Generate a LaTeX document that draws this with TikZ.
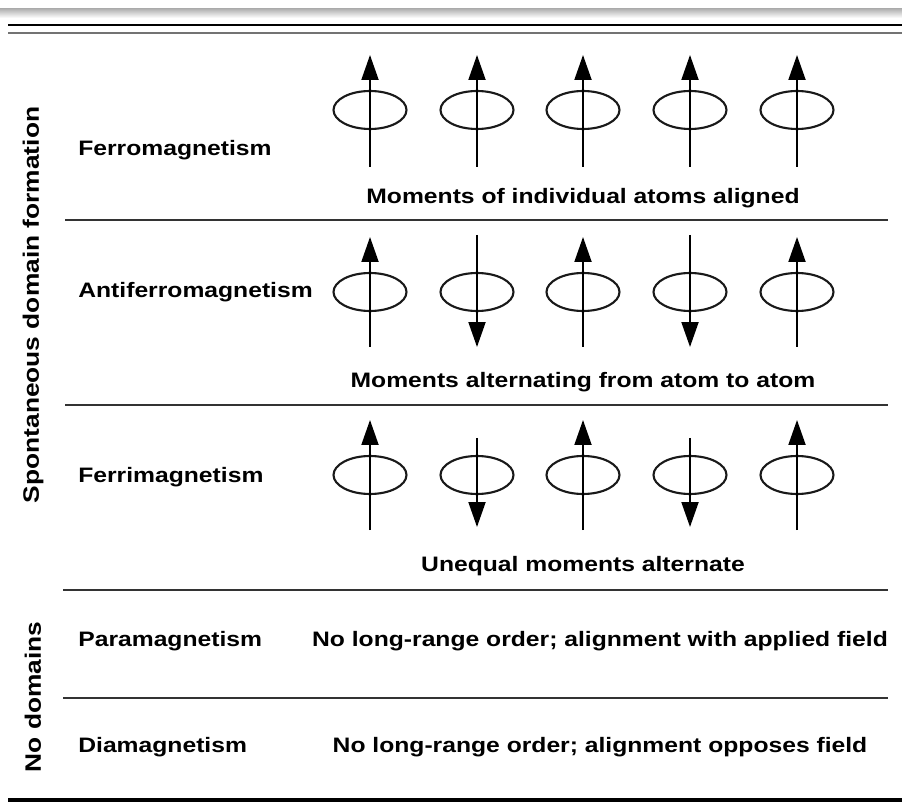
\documentclass[tikz,border=0pt]{standalone}
\usepackage{fontspec}
\setmainfont{Liberation Sans}
\newfontfamily\tablefont[FakeStretch=1.18]{Liberation Sans}
\usetikzlibrary{calc, arrows.meta, shapes.geometric}

\tikzset{
    rowlabel/.style={anchor=west, inner sep=0pt,
        font=\tablefont\bfseries\fontsize{11.9}{14}\selectfont},
    note/.style={inner sep=0pt,
        font=\tablefont\bfseries\fontsize{11.9}{14}\selectfont},
    side/.style={inner sep=0pt, rotate=90,
        font=\tablefont\bfseries\fontsize{12.7}{15}\selectfont},
    atom/.style={draw=black!90, line width=1.2pt, ellipse, inner sep=0pt,
        minimum width=1.46cm, minimum height=0.76cm},
    spin/.style={draw=black, line width=1.1pt,
        -{Triangle[length=0.5cm, width=0.34cm]}},
    rule/.style={draw=black!80, line width=1.5pt}
}

\begin{document}
\begin{tikzpicture}[x=0.02cm, y=-0.02cm]
    \useasboundingbox (0,0) rectangle (902,803);
    \shade[top color=black!30, bottom color=white] (0,9) rectangle (902,18);

    \draw[rule, black] (8,25) -- (902,25);
    \draw[rule, black!55] (8,33) -- (902,33);
    \draw[rule] (65,220) -- (888,220);
    \draw[rule] (65,405) -- (888,405);
    \draw[rule] (63,590) -- (888,590);
    \draw[rule] (63,698) -- (888,698);
    \draw[rule, black, line width=1.8pt] (8,800) -- (902,800);

    \node[side] (spont) at (33,305) {Spontaneous domain formation};
    \node[side] (nodom) at (33,697) {No domains};

    \node[rowlabel] (ferro) at (78,150) {Ferromagnetism};
    \node[rowlabel] (antiferro) at (78,292) {Antiferromagnetism};
    \node[rowlabel] (ferri) at (78,477) {Ferrimagnetism};
    \node[rowlabel] (para) at (78,641) {Paramagnetism};
    \node[rowlabel] (dia) at (78,747) {Diamagnetism};

    \foreach \i/\xx in {1/370, 2/477, 3/583, 4/690, 5/797} {
        \node[atom] (fe\i) at (\xx,110) {};
        \node[atom] (af\i) at (\xx,292) {};
        \node[atom] (fi\i) at (\xx,475) {};
        \draw[spin] ($(fe\i)+(0,57)$) -- ($(fe\i)+(0,-55)$);
    }
    \foreach \i in {1,3,5} {
        \draw[spin] ($(af\i)+(0,55)$) -- ($(af\i)+(0,-55)$);
        \draw[spin] ($(fi\i)+(0,55)$) -- ($(fi\i)+(0,-55)$);
    }
    \foreach \i in {2,4} {
        \draw[spin] ($(af\i)+(0,-57)$) -- ($(af\i)+(0,55)$);
        \draw[spin] ($(fi\i)+(0,-37)$) -- ($(fi\i)+(0,52)$);
    }

    \node[note] (ferronote) at (583,198) {Moments of individual atoms aligned};
    \node[note] (antinote) at (583,382) {Moments alternating from atom to atom};
    \node[note] (ferrinote) at (583,566) {Unequal moments alternate};
    \node[note] (paranote) at (600,641)
        {No long-range order; alignment with applied field};
    \node[note] (dianote) at (600,747)
        {No long-range order; alignment opposes field};
\end{tikzpicture}
\end{document}
